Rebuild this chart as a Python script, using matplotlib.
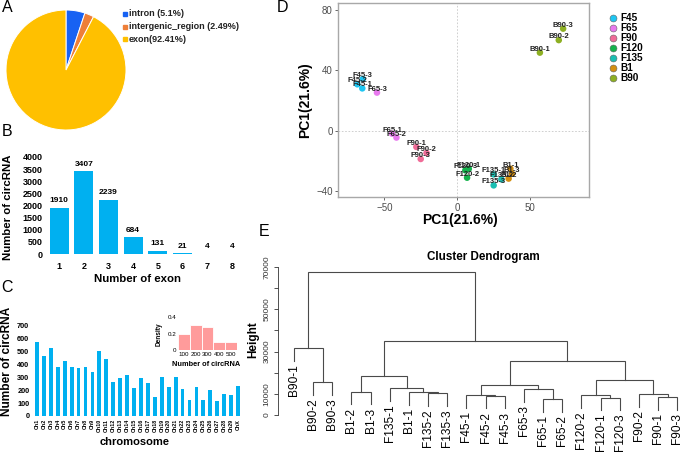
import matplotlib
matplotlib.use('Agg')
import matplotlib.pyplot as plt
from matplotlib.lines import Line2D
import numpy as np

plt.rcParams['font.family'] = ['Liberation Sans', 'DejaVu Sans']

# ---------------- data ----------------
pie_labels = ['intron (5.1%)', 'intergenic_region (2.49%)', 'exon(92.41%)']
pie_values = [5.1, 2.49, 92.41]
pie_colors = ['#1762F3', '#EE7F38', '#FFC000']

exon_numbers = [1, 2, 3, 4, 5, 6, 7, 8]
exon_counts = [1910, 3407, 2239, 684, 131, 21, 4, 4]

chromosomes = ['Ch%d' % i for i in range(1, 30)] + ['ChX']
chrom_counts = [573, 468, 527, 382, 424, 377, 370, 382, 338, 504,
                439, 264, 295, 318, 220, 297, 256, 147, 302, 227,
                305, 212, 121, 222, 124, 202, 114, 168, 163, 233]

hist_edges = [100, 200, 300, 400, 500, 600]
hist_density = [0.2, 0.31, 0.28, 0.1, 0.1]
hist_tick_labels = ['100', '200', '300', '400', '500']

pca_groups = ['F45', 'F65', 'F90', 'F120', 'F135', 'B1', 'B90']
pca_colors = ['#1EC6F2', '#E879EE', '#F06C98', '#14B34C', '#1BBFB2', '#D48F10', '#8DAF22']
pca_samples = ['F45-1', 'F45-2', 'F45-3', 'F65-1', 'F65-2', 'F65-3',
               'F90-1', 'F90-2', 'F90-3', 'F120-1', 'F120-2', 'F120-3',
               'F135-1', 'F135-2', 'F135-3', 'B1-1', 'B1-2', 'B1-3',
               'B90-1', 'B90-2', 'B90-3']
pca_sample_group = ['F45'] * 3 + ['F65'] * 3 + ['F90'] * 3 + ['F120'] * 3 + \
                   ['F135'] * 3 + ['B1'] * 3 + ['B90'] * 3
pc_x = [-65.2, -68.6, -64.8, -44.7, -41.7, -55.1,
        -28.0, -21.0, -25.0, 8.1, 6.9, 5.7,
        25.2, 30.5, 25.2, 36.7, 35.5, 37.8,
        57.0, 70.0, 73.0]
pc_y = [28.0, 30.7, 34.2, -2.0, -4.6, 25.2,
        -10.8, -14.8, -18.8, -25.3, -31.2, -26.3,
        -29.0, -32.3, -36.3, -25.2, -31.8, -28.5,
        51.7, 60.0, 67.6]

# dendrogram: (height, left, right); leaves are sample names
dendro_tree = (67460,
               (31746, 'B90-1', (15556, 'B90-2', 'B90-3')),
               (34921,
                (18571,
                 (11111, 'B1-2', 'B1-3'),
                 (12698, 'F135-1', (10794, 'B1-1', (10317, 'F135-2', 'F135-3')))),
                (25397,
                 (13968,
                  (9524, 'F45-1', (9206, 'F45-2', 'F45-3')),
                  (12222, 'F65-3', (7619, 'F65-1', 'F65-2'))),
                 (16667,
                  (9524, 'F120-2', (8254, 'F120-1', 'F120-3')),
                  (9841, 'F90-2', (8413, 'F90-1', 'F90-3'))))))
dendro_yticks = [0, 10000, 20000, 30000, 40000, 50000, 60000, 70000]
dendro_ytick_labels = ['0', '10000', '', '30000', '', '50000', '', '70000']

# ---------------- layout helpers ----------------
W, H = 685, 458
fig = plt.figure(figsize=(W / 100, H / 100), dpi=100)


def rect(x0, y0, x1, y1):
    return [x0 / W, 1 - y1 / H, (x1 - x0) / W, (y1 - y0) / H]


def fx(x):
    return x / W


def fy(y):
    return 1 - y / H


# panel letters
for lab, (x, y) in zip('ABCDE', [(7, 7.5), (7, 132), (7, 288), (283, 7.5), (264, 231)]):
    fig.text(fx(x), fy(y), lab, fontsize=11.5, ha='center', va='center')

# ---------------- A: pie ----------------
axA = fig.add_axes(rect(6, 10, 126, 130))
axA.pie(pie_values, colors=pie_colors, startangle=90, counterclock=False,
        radius=1, wedgeprops=dict(edgecolor='white', linewidth=0.7))
axA.set_xlim(-1, 1)
axA.set_ylim(-1, 1)
axA.set_aspect('equal')
axA.axis('off')
for i, (lab, col) in enumerate(zip(pie_labels, pie_colors)):
    yy = 14 + 12.5 * i
    fig.add_artist(Line2D([fx(124.5)], [fy(yy)], marker='s', ms=3.2, mfc=col, mec=col,
                          transform=fig.transFigure))
    fig.text(fx(129), fy(yy), lab, fontsize=6.5, fontweight='bold', va='center', color='#222222')

# ---------------- B: exon bars ----------------
axB = fig.add_axes(rect(46.7, 157, 244.4, 254))
axB.bar(exon_numbers, exon_counts, width=0.77, color='#00B0F0')
for xv, v in zip(exon_numbers, exon_counts):
    axB.annotate(str(v), (xv, v), xytext=(0, 2.5), textcoords='offset points',
                 ha='center', va='bottom', fontsize=6, fontweight='bold')
axB.set_xlim(0.5, 8.5)
axB.set_ylim(0, 4000)
axB.set_yticks(np.arange(0, 4001, 500))
axB.set_xticks(exon_numbers)
axB.tick_params(length=0, labelsize=6.5, pad=3)
for t in axB.get_xticklabels() + axB.get_yticklabels():
    t.set_fontweight('bold')
axB.tick_params(axis='x', pad=6)
for s in axB.spines.values():
    s.set_visible(False)
fig.text(fx(8), fy(207), 'Number of circRNA', rotation=90, fontsize=8.2,
         fontweight='bold', ha='center', va='center')
fig.text(fx(138), fy(279), 'Number of exon', fontsize=8.2, fontweight='bold',
         ha='center', va='center')

# ---------------- C: chromosome bars ----------------
axC = fig.add_axes(rect(33.5, 325.7, 241.5, 416))
xc = np.arange(len(chromosomes))
axC.bar(xc, chrom_counts, width=0.55, color='#00B0F0')
axC.set_xlim(-0.5, len(chromosomes) - 0.5)
axC.set_ylim(0, 700)
axC.set_yticks(np.arange(0, 701, 100))
axC.set_xticks(xc)
axC.set_xticklabels(chromosomes, rotation=90, fontsize=3.9)
axC.tick_params(length=0)
axC.tick_params(axis='y', labelsize=5.3, pad=3)
axC.tick_params(axis='x', pad=2)
for t in axC.get_yticklabels() + axC.get_xticklabels():
    t.set_fontweight('bold')
for s in axC.spines.values():
    s.set_visible(False)
fig.text(fx(6.7), fy(361), 'Number of circRNA', rotation=90, fontsize=8.6,
         fontweight='bold', ha='center', va='center')
fig.text(fx(135), fy(441.7), 'chromosome', fontsize=8, fontweight='bold',
         ha='center', va='center')

# inset histogram
axI = fig.add_axes(rect(178.3, 317.3, 236.7, 350))
centers = [(a + b) / 2 for a, b in zip(hist_edges[:-1], hist_edges[1:])]
widths = [b - a for a, b in zip(hist_edges[:-1], hist_edges[1:])]
axI.bar(hist_edges[:-1], hist_density, width=widths, align='edge',
        color='#FF9B9B', edgecolor='white', linewidth=0.6)
axI.set_xlim(hist_edges[0], hist_edges[-1])
axI.set_ylim(0, 0.4)
axI.set_yticks([0, 0.2, 0.4])
axI.set_yticklabels(['0', '0.2', '0.4'])
axI.set_xticks(centers)
axI.set_xticklabels(hist_tick_labels)
axI.tick_params(length=0, labelsize=4.5, pad=1.5)
for s in axI.spines.values():
    s.set_visible(False)
fig.text(fx(159.3), fy(334), 'Density', rotation=90, fontsize=4.7,
         fontweight='bold', ha='center', va='center')
fig.text(fx(206), fy(365), 'Number of circRNA', fontsize=5.3,
         fontweight='bold', ha='center', va='center')

# ---------------- D: PCA ----------------
axD = fig.add_axes(rect(338.3, 3.3, 589.3, 197.3))
axD.axhline(0, color='#C8C8C8', lw=0.6, ls=(0, (2, 2)), zorder=0)
axD.axvline(0, color='#C8C8C8', lw=0.6, ls=(0, (2, 2)), zorder=0)
for g, col in zip(pca_groups, pca_colors):
    idx = [i for i, sg in enumerate(pca_sample_group) if sg == g]
    axD.scatter([pc_x[i] for i in idx], [pc_y[i] for i in idx], s=22, color=col,
                edgecolors='none', zorder=3)
for s_name, xv, yv in zip(pca_samples, pc_x, pc_y):
    axD.annotate(s_name, (xv, yv), xytext=(0, 2.5), textcoords='offset points',
                 ha='center', va='center', fontsize=5.5, fontweight='bold',
                 color='#222222', zorder=4)
axD.set_xlim(-81.7, 91.0)
axD.set_ylim(-44.2, 84.4)
axD.set_xticks([-50, 0, 50])
axD.set_yticks([-40, 0, 40, 80])
axD.tick_params(labelsize=7, colors='#4D4D4D', length=2.5, width=0.6, pad=1.5)
for s in axD.spines.values():
    s.set_color('#A8A8A8')
    s.set_linewidth(1.0)
fig.text(fx(305), fy(100), 'PC1(21.6%)', rotation=90, fontsize=10,
         fontweight='bold', ha='center', va='center')
fig.text(fx(460), fy(220), 'PC1(21.6%)', fontsize=10, fontweight='bold',
         ha='center', va='center')
for i, (g, col) in enumerate(zip(pca_groups, pca_colors)):
    yy = 17.7 + 10 * i
    fig.add_artist(Line2D([fx(612.7)], [fy(yy)], marker='o', ms=5, mfc=col,
                          mec='#666666', mew=0.4, transform=fig.transFigure))
    fig.text(fx(620), fy(yy), g, fontsize=7.2, fontweight='bold', va='center')

# ---------------- E: dendrogram ----------------
axE = fig.add_axes(rect(277.7, 267, 685, 415))


def _heights(node):
    if isinstance(node, str):
        return []
    return [node[0]] + _heights(node[1]) + _heights(node[2])


hs = _heights(dendro_tree)
hang = 0.1 * (max(hs) - min(hs))
leaf_counter = [0]
line_col = '#4A4A4A'


def draw(node, parent_h):
    if isinstance(node, str):
        x = leaf_counter[0]
        leaf_counter[0] += 1
        yb = parent_h - hang
        axE.annotate(node, (x, yb), xytext=(0, -2.5), textcoords='offset points',
                     rotation=90, ha='center', va='top', fontsize=8.6)
        return x, yb
    h, left, right = node
    xl, yl = draw(left, h)
    xr, yr = draw(right, h)
    axE.plot([xl, xl, xr, xr], [yl, h, h, yr], color=line_col, lw=0.8,
             solid_joinstyle='miter', clip_on=False)
    return (xl + xr) / 2, h


draw(dendro_tree, None)
axE.set_xlim(-0.85, 20.4)
axE.set_ylim(0, 70000)
axE.set_yticks(dendro_yticks)
axE.set_yticklabels(dendro_ytick_labels, rotation=90, va='center')
axE.set_xticks([])
axE.tick_params(axis='y', labelsize=6, colors='#333333', length=3, width=0.6, pad=2)
for side in ['top', 'right', 'bottom']:
    axE.spines[side].set_visible(False)
axE.spines['left'].set_color('#333333')
axE.spines['left'].set_linewidth(0.6)
axE.patch.set_visible(False)
fig.text(fx(253), fy(340), 'Height', rotation=90, fontsize=8.5,
         fontweight='bold', ha='center', va='center')
fig.text(fx(483.3), fy(257), 'Cluster Dendrogram', fontsize=8.4,
         fontweight='bold', ha='center', va='center')

fig.savefig('out.png', dpi=100)
